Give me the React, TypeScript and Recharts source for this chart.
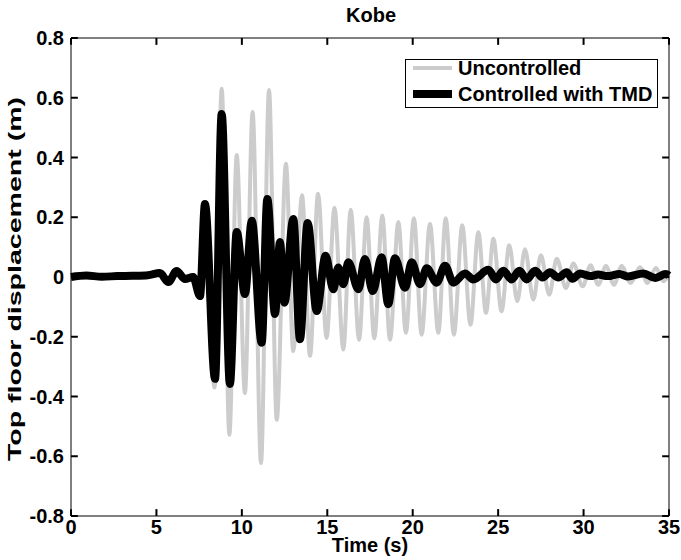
import { LineChart, Line, XAxis, YAxis, Legend, ReferenceLine } from 'recharts';

// Kobe record: top floor displacement (peaks and troughs)
const uncontrolledTime = [
  0, 0.9, 1.8, 2.7, 3.6, 4.5, 5.2, 5.7, 6.18, 6.67, 7.15, 7.55, 7.84, 8.4, 8.82, 9.27,
  9.7, 10.18, 10.63, 11.12, 11.59, 12.04, 12.58, 13.01, 13.52, 13.99, 14.46, 14.96,
  15.42, 15.94, 16.37, 16.86, 17.3, 17.75, 18.22, 18.67, 19.16, 19.6, 20.07, 20.52,
  21.01, 21.5, 21.93, 22.41, 22.9, 23.38, 23.84, 24.29, 24.72, 25.2, 25.65, 26.12,
  26.57, 27.06, 27.5, 27.99, 28.43, 28.97, 29.4, 29.95, 30.41, 30.86, 31.31, 31.78,
  32.23, 32.76, 33.3, 33.73, 34.24, 34.67, 35,
];
const uncontrolledDisp = [
  0, 0.004, 0, 0.002, 0.003, 0.005, 0.013, -0.017, 0.02, -0.007, 0, -0.07, 0.24, -0.37, 0.63, -0.528,
  0.408, -0.388, 0.552, -0.623, 0.626, -0.478, 0.379, -0.248, 0.274, -0.264, 0.279, -0.204,
  0.232, -0.243, 0.225, -0.21, 0.2, -0.205, 0.206, -0.21, 0.184, -0.187, 0.197, -0.193,
  0.178, -0.187, 0.197, -0.193, 0.173, -0.16, 0.15, -0.12, 0.128, -0.115, 0.106, -0.081,
  0.093, -0.076, 0.073, -0.059, 0.061, -0.037, 0.045, -0.031, 0.039, -0.026, 0.037, -0.026,
  0.037, -0.02, 0.033, -0.02, 0.03, -0.014, 0.005,
];

const controlledTime = [
  0, 0.9, 1.8, 2.7, 3.6, 4.5, 5.2, 5.7, 6.18, 6.67, 7.15, 7.55, 7.84, 8.43, 8.82, 9.3,
  9.7, 10.18, 10.58, 11.16, 11.49, 11.94, 12.23, 12.49, 13.01, 13.4, 13.85, 14.38, 14.9,
  15.35, 15.64, 15.94, 16.23, 16.82, 17.2, 17.66, 18.18, 18.57, 18.96, 19.55, 19.94,
  20.43, 20.82, 21.4, 21.89, 22.38, 23.06, 23.55, 24.43, 24.87, 25.3, 25.79, 26.24,
  26.67, 27.16, 27.6, 28.03, 28.52, 29.01, 29.35, 29.8, 30.4, 30.85, 31.4, 32.1, 32.6,
  33.5, 34.2, 34.8, 35,
];
const controlledDisp = [
  0, 0.005, 0.001, 0.003, 0.004, 0.006, 0.013, -0.017, 0.02, -0.007, 0, -0.064, 0.244, -0.341, 0.546, -0.358,
  0.151, -0.057, 0.188, -0.22, 0.261, -0.124, 0.117, -0.086, 0.194, -0.208, 0.181, -0.114, 0.071,
  -0.041, 0.032, -0.024, 0.049, -0.041, 0.06, -0.047, 0.066, -0.091, 0.063, -0.036, 0.049,
  -0.024, 0.029, -0.019, 0.038, -0.019, 0.012, -0.008, 0.024, -0.008, 0.021, -0.008, 0.021,
  -0.008, 0.021, -0.002, 0.016, -0.002, 0.016, -0.006, 0.012, 0.003, 0.008, 0.003, 0.01, 0.002,
  0.012, -0.003, 0.01, 0.005,
];

const xTicks = [0, 5, 10, 15, 20, 25, 30, 35];
const yTicks = [-0.8, -0.6, -0.4, -0.2, 0, 0.2, 0.4, 0.6, 0.8];
const X_MIN = 0;
const X_MAX = 35;
const Y_MIN = -0.8;
const Y_MAX = 0.8;

const FONT = '"Liberation Sans", Arial, Helvetica, sans-serif';
const GREY = '#cccccc';
const X_GAP = 3;
const Y_GAP = 7;
// inward tick length (~7px) in data units
const X_TICK_LEN = 0.4;
const Y_TICK_LEN = 0.023;

const uncontrolledData = uncontrolledTime.map((t, i) => ({ t, u: uncontrolledDisp[i] }));
const controlledData = controlledTime.map((t, i) => ({ t, c: controlledDisp[i] }));

// MATLAB-style inward tick marks on all four sides of the box
const tickSegments = [
  ...xTicks.map((t) => [{ x: t, y: Y_MIN }, { x: t, y: Y_MIN + Y_TICK_LEN }]),
  ...xTicks.map((t) => [{ x: t, y: Y_MAX }, { x: t, y: Y_MAX - Y_TICK_LEN }]),
  ...yTicks.map((v) => [{ x: X_MIN, y: v }, { x: X_MIN + X_TICK_LEN, y: v }]),
  ...yTicks.map((v) => [{ x: X_MAX, y: v }, { x: X_MAX - X_TICK_LEN, y: v }]),
];

const renderBottomTick = ({ x, y, payload }: any) => (
  <text key={`b-${payload.value}`} x={x} y={y} dy="0.74em" textAnchor="middle"
    fontFamily={FONT} fontWeight="bold" fontSize={20} fill="#000">
    {payload.value}
  </text>
);
const renderLeftTick = ({ x, y, payload }: any) => (
  <text key={`l-${payload.value}`} x={x} y={y} dy="0.36em" textAnchor="end"
    fontFamily={FONT} fontWeight="bold" fontSize={20} fill="#000">
    {String(payload.value)}
  </text>
);

// MATLAB-style boxed legend
const LegendBox = () => (
  <div
    style={{
      width: 251,
      height: 47,
      border: '1px solid #000',
      background: '#fff',
      fontFamily: FONT,
      fontWeight: 'bold',
      fontSize: 20,
      color: '#000',
      lineHeight: '20px',
    }}
  >
    <div style={{ display: 'flex', alignItems: 'center', height: 14, marginTop: 1 }}>
      <span style={{ width: 39, height: 4, background: GREY, marginLeft: 7, marginRight: 6 }} />
      Uncontrolled
    </div>
    <div style={{ display: 'flex', alignItems: 'center', height: 14, marginTop: 12 }}>
      <span style={{ width: 39, height: 8, background: '#000', marginLeft: 7, marginRight: 6 }} />
      Controlled with TMD
    </div>
  </div>
);

const textStyle = {
  position: 'absolute' as const,
  fontFamily: FONT,
  fontWeight: 'bold' as const,
  fontSize: 20,
  color: '#000',
  lineHeight: '20px',
  whiteSpace: 'nowrap' as const,
};

export default function App() {
  return (
    <div style={{ position: 'absolute', left: 0, top: 0, width: 681, height: 560 }}>
      <LineChart width={681} height={560} margin={{ top: 0, right: 0, bottom: 0, left: 0 }}>
        <XAxis
          dataKey="t"
          type="number"
          domain={[X_MIN, X_MAX]}
          ticks={xTicks}
          height={44}
          stroke="#000"
          tickLine={false}
          tickSize={0}
          tickMargin={X_GAP}
          tick={renderBottomTick}
        />
        <XAxis
          xAxisId="top"
          orientation="top"
          type="number"
          domain={[X_MIN, X_MAX]}
          height={38}
          stroke="#000"
          tick={false}
          tickLine={false}
        />
        <YAxis
          type="number"
          domain={[Y_MIN, Y_MAX]}
          ticks={yTicks}
          width={71}
          stroke="#000"
          tickLine={false}
          tickSize={0}
          tickMargin={Y_GAP}
          tick={renderLeftTick}
        />
        <YAxis
          yAxisId="right"
          orientation="right"
          type="number"
          domain={[Y_MIN, Y_MAX]}
          width={12}
          stroke="#000"
          tick={false}
          tickLine={false}
        />
        <Legend
          layout="vertical"
          align="center"
          verticalAlign="middle"
          wrapperStyle={{ left: 405, top: 59, width: 253, height: 49 }}
          content={() => <LegendBox />}
        />
        <Line
          data={uncontrolledData}
          dataKey="u"
          name="Uncontrolled"
          type="monotone"
          stroke={GREY}
          strokeWidth={4}
          dot={false}
          isAnimationActive={false}
        />
        <Line
          data={controlledData}
          dataKey="c"
          name="Controlled with TMD"
          type="monotone"
          stroke="#000"
          strokeWidth={8}
          strokeLinejoin="round"
          dot={false}
          isAnimationActive={false}
        />
        {tickSegments.map((seg, i) => (
          <ReferenceLine
            key={`tick-${i}`}
            segment={seg}
            stroke="#000"
            strokeWidth={2}
            ifOverflow="visible"
          />
        ))}
      </LineChart>
      {/* title and x label as plain HTML text */}
      <div style={{ ...textStyle, left: 271, width: 200, top: 5, textAlign: 'center' }}>Kobe</div>
      <div style={{ ...textStyle, left: 270, width: 200, top: 535, textAlign: 'center' }}>Time (s)</div>
      {/* y label, stretched like the original export */}
      <svg
        width={40}
        height={560}
        style={{ position: 'absolute', left: 0, top: 0, pointerEvents: 'none', overflow: 'visible' }}
      >
        <text
          transform="translate(21,279) rotate(-90)"
          textAnchor="middle"
          fontFamily={FONT}
          fontWeight="bold"
          fontSize={19}
          textLength={364}
          lengthAdjust="spacingAndGlyphs"
        >
          Top floor displacement (m)
        </text>
      </svg>
    </div>
  );
}
